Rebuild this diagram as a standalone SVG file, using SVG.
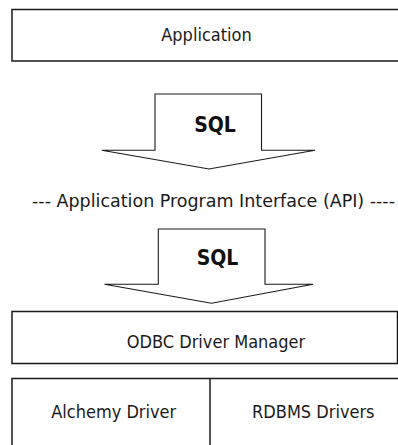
<svg xmlns="http://www.w3.org/2000/svg" width="398" height="445" viewBox="0 0 398 445">
  <style>
    .box { fill: #fff; stroke: #1a1a1a; stroke-width: 1.5; }
    .edge { fill: none; stroke: #1a1a1a; stroke-width: 1.5; }
    .flow { fill: #fff; stroke: #1a1a1a; stroke-width: 1.1; stroke-linejoin: miter; }
    .label { font-family: "DejaVu Sans Condensed", "DejaVu Sans", sans-serif; font-stretch: condensed; font-size: 18px; fill: #1a1a1a; text-anchor: middle; }
    .sql { font-family: "DejaVu Sans Condensed", "DejaVu Sans", sans-serif; font-stretch: condensed; font-weight: bold; font-size: 21px; fill: #111; text-anchor: middle; }
  </style>
  <rect width="398" height="445" fill="#fff"/>

  <!-- top layer: the application, open on the right -->
  <g id="application">
    <path class="edge" d="M402,9.5 H12 V61 H402"/>
    <text class="label" x="206.5" y="41">Application</text>
  </g>

  <!-- block arrows carrying SQL downwards -->
  <g id="connectors">
    <g id="sql-arrow-1">
      <polygon class="flow" points="155,94 261.5,94 261.5,150.3 315,150.3 209,169 101.7,150.3 155,150.3"/>
      <text class="sql" x="215" y="132">SQL</text>
    </g>
    <g id="sql-arrow-2">
      <polygon class="flow" points="158.3,229 265,229 265,284.3 313,284.3 211.5,303.3 104.5,284.3 158.3,284.3"/>
      <text class="sql" x="217.5" y="265">SQL</text>
    </g>
  </g>

  <g id="api">
    <text class="label" x="213.5" y="207" textLength="363" lengthAdjust="spacingAndGlyphs">--- Application Program Interface (API) ----</text>
  </g>

  <g id="driver-manager">
    <rect class="box" x="12" y="311.5" width="385.5" height="52"/>
    <text class="label" x="216" y="347.5">ODBC Driver Manager</text>
  </g>

  <!-- bottom row, open on the right and at the bottom -->
  <g id="drivers">
    <path class="edge" d="M12,450 V378.5 H402 M210,378.5 V450"/>
  </g>
  <g id="alchemy-driver">
    <text class="label" x="113.7" y="418.3">Alchemy Driver</text>
  </g>
  <g id="rdbms-drivers">
    <text class="label" x="313.3" y="418.3">RDBMS Drivers</text>
  </g>
</svg>
